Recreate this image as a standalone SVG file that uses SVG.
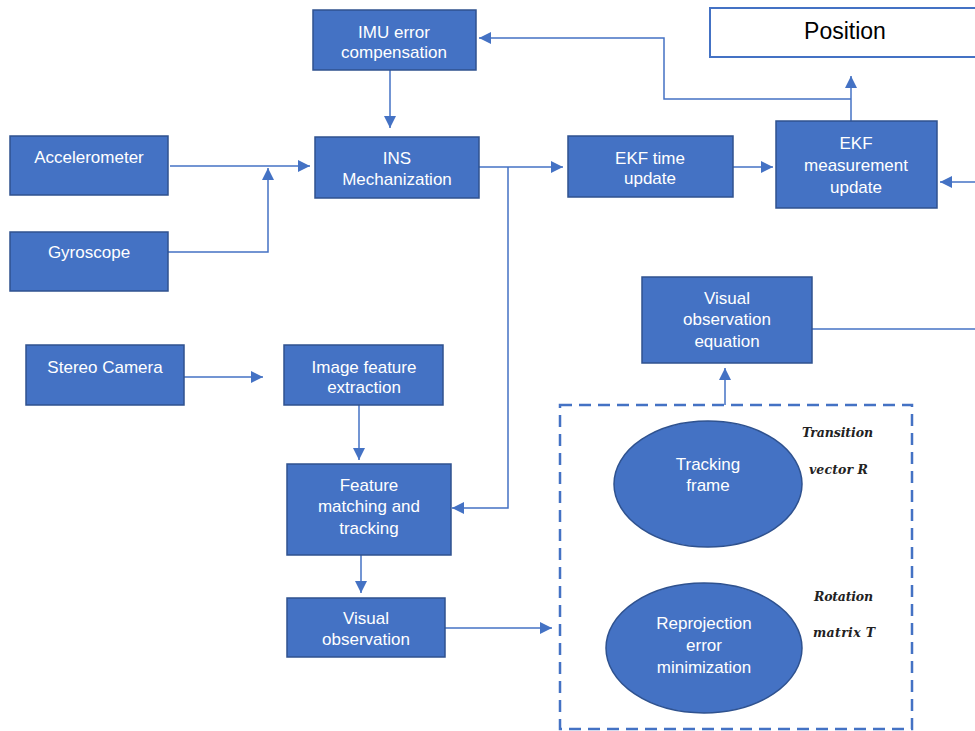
<svg xmlns="http://www.w3.org/2000/svg" width="975" height="731" viewBox="0 0 975 731">
<defs>
<marker id="arr" markerUnits="userSpaceOnUse" markerWidth="12" markerHeight="12" refX="11" refY="5.5" orient="auto" viewBox="0 0 11 11">
<path d="M0,0 L11,5.5 L0,11 z" fill="#4472C4"/>
</marker>
<style>
.box{fill:#4472C4;stroke:#2F528F;stroke-width:1.5}
.t{fill:#FFFFFF;font-family:"Liberation Sans",Arial,sans-serif;font-size:17px;text-anchor:middle}
.m{fill:#222222;font-family:"DejaVu Serif","Liberation Serif",serif;font-style:italic;font-weight:bold;font-size:12.5px}
.c{fill:none;stroke:#4472C4;stroke-width:1.5}
.ca{fill:none;stroke:#4472C4;stroke-width:1.5;marker-end:url(#arr)}
</style>
</defs>
<rect width="975" height="731" fill="#FFFFFF"/>
<g id="connectors">
<path class="ca" d="M170,166 H310"/>
<path class="ca" d="M168,252 H268 V168"/>
<path class="ca" d="M390,70 V128"/>
<path class="ca" d="M479,167 H563"/>
<path class="ca" d="M508,167 V508 H452"/>
<path class="ca" d="M733,167 H773"/>
<path class="ca" d="M975,182 H940"/>
<path class="ca" d="M851,121 V76"/>
<path class="ca" d="M851,99 H664 V38 H479"/>
<path class="c" d="M812,329 H975"/>
<path class="ca" d="M184,377 H263"/>
<path class="ca" d="M359,405 V460"/>
<path class="ca" d="M361,555 V593"/>
<path class="ca" d="M445,628 H552"/>
<path class="ca" d="M725,405 V368"/>
</g>
<g id="imu-error-compensation">
<rect class="box" x="313" y="10" width="163" height="60"/>
<text class="t" x="394" y="38">IMU error</text>
<text class="t" x="394" y="58">compensation</text>
</g>
<g id="position">
<rect x="710" y="8" width="270" height="49" fill="#FFFFFF" stroke="#4472C4" stroke-width="2"/>
<text x="845" y="39" fill="#000000" font-family="Liberation Sans,Arial,sans-serif" font-size="23" text-anchor="middle">Position</text>
</g>
<g id="accelerometer">
<rect class="box" x="10" y="136" width="158" height="59"/>
<text class="t" x="89" y="163">Accelerometer</text>
</g>
<g id="gyroscope">
<rect class="box" x="10" y="232" width="158" height="59"/>
<text class="t" x="89" y="258">Gyroscope</text>
</g>
<g id="ins-mechanization">
<rect class="box" x="315" y="137" width="164" height="61"/>
<text class="t" x="397" y="164">INS</text>
<text class="t" x="397" y="185">Mechanization</text>
</g>
<g id="ekf-time-update">
<rect class="box" x="568" y="136" width="165" height="61"/>
<text class="t" x="650" y="164">EKF time</text>
<text class="t" x="650" y="184">update</text>
</g>
<g id="ekf-measurement-update">
<rect class="box" x="776" y="121" width="161" height="87"/>
<text class="t" x="856" y="149">EKF</text>
<text class="t" x="856" y="171">measurement</text>
<text class="t" x="856" y="193">update</text>
</g>
<g id="stereo-camera">
<rect class="box" x="26" y="345" width="158" height="60"/>
<text class="t" x="105" y="373">Stereo Camera</text>
</g>
<g id="image-feature-extraction">
<rect class="box" x="284" y="345" width="159" height="60"/>
<text class="t" x="364" y="373">Image feature</text>
<text class="t" x="364" y="393">extraction</text>
</g>
<g id="feature-matching-and-tracking">
<rect class="box" x="287" y="464" width="164" height="91"/>
<text class="t" x="369" y="491">Feature</text>
<text class="t" x="369" y="512">matching and</text>
<text class="t" x="369" y="534">tracking</text>
</g>
<g id="visual-observation">
<rect class="box" x="287" y="598" width="158" height="59"/>
<text class="t" x="366" y="624">Visual</text>
<text class="t" x="366" y="645">observation</text>
</g>
<g id="visual-observation-equation">
<rect class="box" x="642" y="277" width="170" height="86"/>
<text class="t" x="727" y="304">Visual</text>
<text class="t" x="727" y="325">observation</text>
<text class="t" x="727" y="347">equation</text>
</g>
<g id="dashed-group">
<rect x="560" y="405" width="352" height="324" fill="none" stroke="#4472C4" stroke-width="2.5" stroke-dasharray="12 7"/>
</g>
<g id="tracking-frame">
<ellipse cx="708" cy="484" rx="94" ry="63" fill="#4472C4" stroke="#2F528F" stroke-width="1.5"/>
<text class="t" x="708" y="470">Tracking</text>
<text class="t" x="708" y="491">frame</text>
</g>
<g id="reprojection-error-minimization">
<ellipse cx="704" cy="648" rx="98" ry="65" fill="#4472C4" stroke="#2F528F" stroke-width="1.5"/>
<text class="t" x="704" y="629">Reprojection</text>
<text class="t" x="704" y="651">error</text>
<text class="t" x="704" y="673">minimization</text>
</g>
<g id="math-labels">
<text class="m" x="802" y="437" textLength="71" lengthAdjust="spacing">Transition</text>
<text class="m" x="809" y="474" textLength="59" lengthAdjust="spacing">vector  R</text>
<text class="m" x="814" y="601" textLength="59" lengthAdjust="spacing">Rotation</text>
<text class="m" x="813" y="637" textLength="62" lengthAdjust="spacing">matrix  T</text>
</g>
</svg>
